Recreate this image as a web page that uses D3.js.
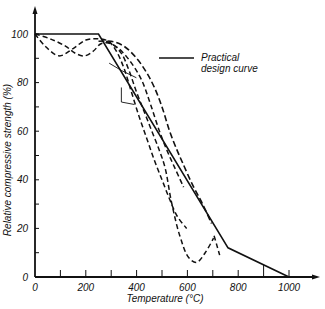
<!DOCTYPE html>
<html>
<head>
<meta charset="utf-8">
<script src="https://cdn.jsdelivr.net/npm/d3@7"></script>
<style>
  body { margin: 0; background: #fff; }
  svg { display: block; font-family: "Liberation Sans", Arial, sans-serif; font-style: italic; }
</style>
</head>
<body>
<div class="chart"></div>
<script>
// tick values
const xTicks = [0, 200, 400, 600, 800, 1000];
const xMinor = [100, 300, 500, 700, 900];
const yTicks = [0, 20, 40, 60, 80, 100];
const yMinor = [10, 30, 50, 70, 90];

// practical design curve  [temperature, strength %]
const practical = [[0, 100], [250, 100], [760, 12], [1000, 0]];

// test curves (dashed)
const testA = [[0, 100], [40, 95], [95, 91], [150, 94], [200, 97.5], [250, 98], [290, 97], [320, 93],
  [350, 86], [380, 76], [410, 66], [440, 57], [470, 48], [500, 40], [530, 32], [560, 25], [597, 20]];
const testB = [[0, 100], [60, 98], [120, 95], [160, 92], [195, 91], [230, 93], [260, 96], [300, 96],
  [340, 92], [370, 85], [400, 76], [430, 68], [460, 60], [490, 52], [512, 45], [537, 31], [570, 17],
  [605, 8], [636, 6], [670, 10], [703, 16]];
const testB2 = [[705, 17], [716, 13], [727, 9]];
const testC = [[250, 97], [300, 97], [350, 95], [400, 90], [440, 84], [470, 78], [500, 70], [530, 60],
  [560, 52], [581, 47], [620, 38], [660, 30], [695, 22]];
const testD = [[280, 97], [330, 94], [380, 88], [420, 81], [455, 71], [490, 60], [520, 52], [550, 45], [585, 37]];
const stepLine = [[292, 88], [340, 85], [399, 82]];
const stepLine2 = [[340, 78], [340, 72], [391, 71]];

const w = 325, h = 309;

const x = d3.scaleLinear().domain([0, 1000]).range([35, 289]);
const y = d3.scaleLinear().domain([0, 100]).range([277, 34]);

const svg = d3.select(".chart").append("svg")
  .attr("width", w).attr("height", h);

const ink = "#111";

// axes
svg.append("line").attr("x1", x(0)).attr("x2", x(0)).attr("y1", y(0)).attr("y2", 12)
  .attr("stroke", ink).attr("stroke-width", 1.8);
svg.append("path").attr("d", `M${x(0)},6 L${x(0) - 2.5},14 L${x(0) + 2.5},14 Z`).attr("fill", ink);
svg.append("line").attr("x1", x(0)).attr("x2", 314).attr("y1", y(0)).attr("y2", y(0))
  .attr("stroke", ink).attr("stroke-width", 1.8);
svg.append("path").attr("d", `M320,${y(0)} L312,${y(0) - 2.5} L312,${y(0) + 2.5} Z`).attr("fill", ink);

// y ticks
svg.selectAll(".ytick").data(yTicks.concat(yMinor)).enter().append("line")
  .attr("x1", x(0)).attr("x2", x(0) + 4)
  .attr("y1", d => y(d)).attr("y2", d => y(d))
  .attr("stroke", ink).attr("stroke-width", 1);
svg.selectAll(".ylab").data(yTicks).enter().append("text")
  .attr("x", 28).attr("y", d => y(d) + 3.5)
  .attr("text-anchor", "end").attr("font-size", 10).attr("fill", ink)
  .text(d => d);

// x ticks
svg.selectAll(".xtick").data(xTicks.concat(xMinor).filter(d => d > 0)).enter().append("line")
  .attr("x1", d => x(d)).attr("x2", d => x(d))
  .attr("y1", y(0)).attr("y2", d => d === 900 ? y(0) - 12 : y(0) - 7)
  .attr("stroke", ink).attr("stroke-width", 1);
svg.selectAll(".xlab").data(xTicks).enter().append("text")
  .attr("x", d => x(d)).attr("y", 291)
  .attr("text-anchor", "middle").attr("font-size", 10).attr("fill", ink)
  .text(d => d);

// axis titles
svg.append("text").attr("x", 165).attr("y", 302)
  .attr("text-anchor", "middle").attr("font-size", 10).attr("fill", ink)
  .text("Temperature (°C)");
svg.append("text")
  .attr("transform", "translate(11,160) rotate(-90)")
  .attr("text-anchor", "middle").attr("font-size", 10).attr("fill", ink)
  .text("Relative compressive strength (%)");

// curves
const smooth = d3.line().x(d => x(d[0])).y(d => y(d[1])).curve(d3.curveCatmullRom);
const straight = d3.line().x(d => x(d[0])).y(d => y(d[1]));

[testA, testB, testD, testB2].forEach(c => {
  svg.append("path").attr("d", smooth(c)).attr("fill", "none")
    .attr("stroke", ink).attr("stroke-width", 1.5).attr("stroke-dasharray", "5,3");
});
svg.append("path").attr("d", smooth(testC)).attr("fill", "none")
  .attr("stroke", ink).attr("stroke-width", 1.6).attr("stroke-dasharray", "6,3");
[stepLine, stepLine2].forEach(c => {
  svg.append("path").attr("d", straight(c)).attr("fill", "none")
    .attr("stroke", ink).attr("stroke-width", 0.9);
});

svg.append("path").attr("d", straight(practical)).attr("fill", "none")
  .attr("stroke", ink).attr("stroke-width", 1.6);

// legend
svg.append("line").attr("x1", 159).attr("x2", 194).attr("y1", 58).attr("y2", 58)
  .attr("stroke", ink).attr("stroke-width", 1.6);
svg.append("text").attr("x", 201).attr("y", 61).attr("font-size", 10).attr("fill", ink).text("Practical");
svg.append("text").attr("x", 201).attr("y", 72).attr("font-size", 10).attr("fill", ink).text("design curve");
</script>
</body>
</html>
